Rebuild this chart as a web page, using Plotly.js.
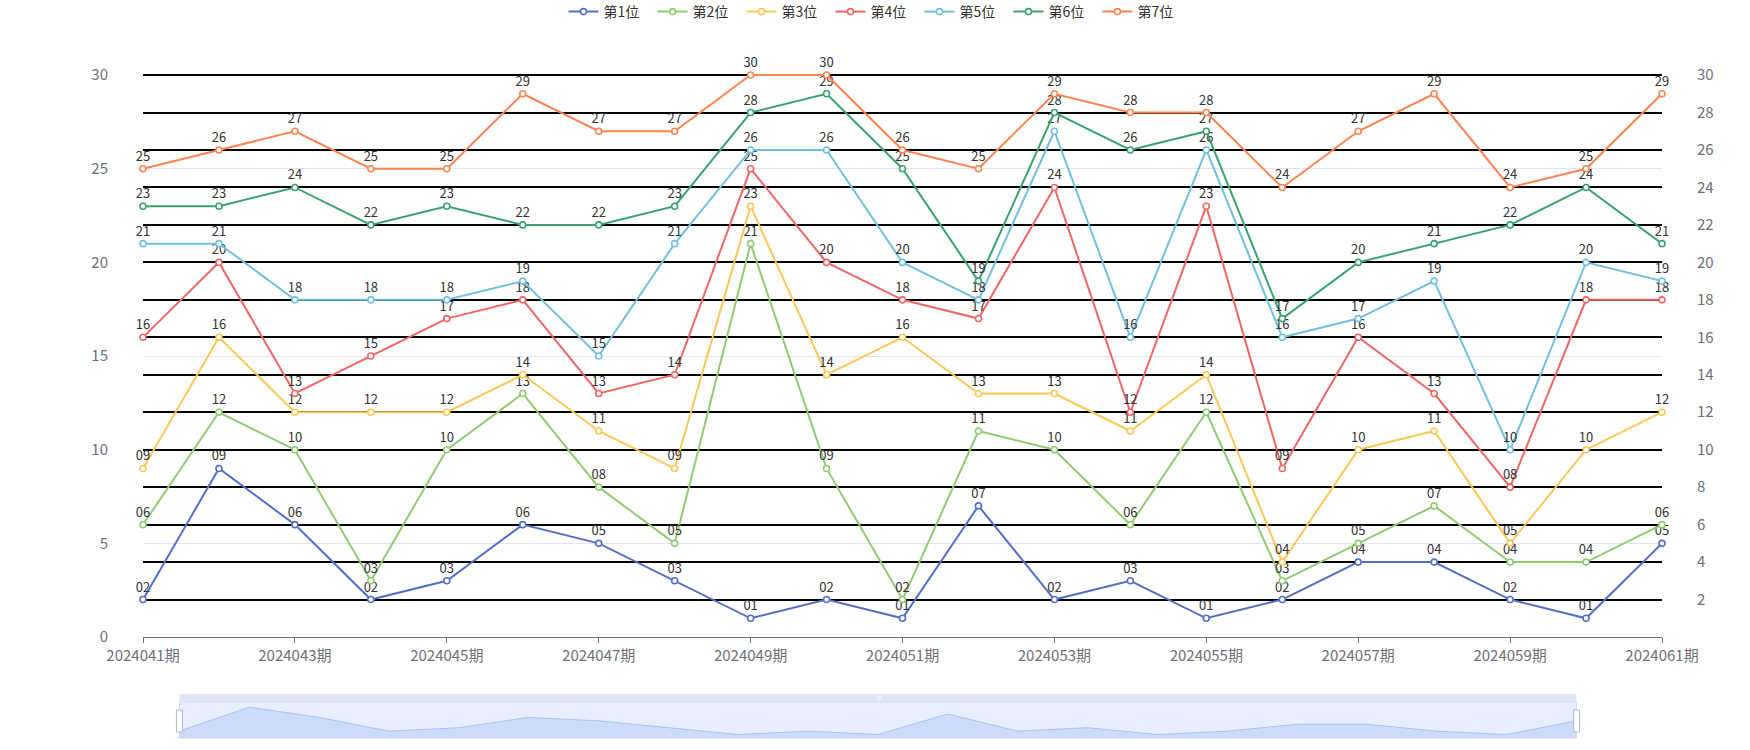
<!DOCTYPE html>
<html>
<head>
<meta charset="utf-8">
<script src="https://cdn.plot.ly/plotly-3.0.1.min.js"></script>
<style>html,body{margin:0;padding:0;background:#fff;}#chart{width:1750px;height:750px;}</style>
</head>
<body>
<div id="chart"></div>
<script>
const categories = ['2024041期','2024042期','2024043期','2024044期','2024045期','2024046期','2024047期','2024048期','2024049期','2024050期','2024051期','2024052期','2024053期','2024054期','2024055期','2024056期','2024057期','2024058期','2024059期','2024060期','2024061期'];
const seriesNames = ['第1位','第2位','第3位','第4位','第5位','第6位','第7位'];
const pos1 = [2, 9, 6, 2, 3, 6, 5, 3, 1, 2, 1, 7, 2, 3, 1, 2, 4, 4, 2, 1, 5];
const pos2 = [6, 12, 10, 3, 10, 13, 8, 5, 21, 9, 2, 11, 10, 6, 12, 3, 5, 7, 4, 4, 6];
const pos3 = [9, 16, 12, 12, 12, 14, 11, 9, 23, 14, 16, 13, 13, 11, 14, 4, 10, 11, 5, 10, 12];
const pos4 = [16, 20, 13, 15, 17, 18, 13, 14, 25, 20, 18, 17, 24, 12, 23, 9, 16, 13, 8, 18, 18];
const pos5 = [21, 21, 18, 18, 18, 19, 15, 21, 26, 26, 20, 18, 27, 16, 26, 16, 17, 19, 10, 20, 19];
const pos6 = [23, 23, 24, 22, 23, 22, 22, 23, 28, 29, 25, 19, 28, 26, 27, 17, 20, 21, 22, 24, 21];
const pos7 = [25, 26, 27, 25, 25, 29, 27, 27, 30, 30, 26, 25, 29, 28, 28, 24, 27, 29, 24, 25, 29];
const leftTicks = [0, 5, 10, 15, 20, 25, 30];
const rightTicks = [2, 4, 6, 8, 10, 12, 14, 16, 18, 20, 22, 24, 26, 28, 30];

const allSeries = [pos1, pos2, pos3, pos4, pos5, pos6, pos7];
const colors = ['#5470c6','#91cc75','#fac858','#ee6666','#73c0de','#3ba272','#fc8452'];
const FONT = '"Noto Sans CJK SC", "Microsoft YaHei", sans-serif';
const Y_RANGE = [0, 30.27];

const traces = allSeries.map((vals, i) => ({
  type: 'scatter',
  mode: 'lines+markers+text',
  name: seriesNames[i],
  x: categories,
  y: vals,
  text: vals.map(v => String(v).padStart(2, '0')),
  textposition: 'top center',
  textfont: {family: FONT, size: 13, color: '#333'},
  cliponaxis: false,
  line: {color: colors[i], width: 2},
  marker: {symbol: 'circle', size: 6, color: '#fff', line: {color: colors[i], width: 1.6}},
  xaxis: 'x',
  // last series is bound to the right axis (same scale) so that axis is drawn
  yaxis: i === allSeries.length - 1 ? 'y2' : 'y'
}));

// data zoom slider preview (series 第1位)
traces.push({
  type: 'scatter', mode: 'lines', x: categories, y: pos1,
  fill: 'tozeroy', fillcolor: 'rgba(143,176,247,0.28)',
  line: {color: '#a9c1f5', width: 1},
  xaxis: 'x2', yaxis: 'y3', showlegend: false, hoverinfo: 'skip'
});

const tickCats = categories.filter((c, i) => i % 2 === 0);

const layout = {
  width: 1750, height: 750,
  margin: {l: 142.5, r: 87.5, t: 70, b: 10},
  paper_bgcolor: '#fff', plot_bgcolor: 'rgba(0,0,0,0)',
  font: {family: FONT, color: '#6E7079'},
  showlegend: true,
  legend: {
    orientation: 'h', xref: 'container', yref: 'container',
    x: 0.5, xanchor: 'center', y: 0.984, yanchor: 'middle',
    font: {family: FONT, size: 14, color: '#333'},
    entrywidth: 44, entrywidthmode: 'pixels',
    itemwidth: 30, tracegroupgap: 0
  },
  xaxis: {
    type: 'category', domain: [0, 1], anchor: 'y',
    range: [0, categories.length - 1],
    tickmode: 'array', tickvals: tickCats, ticktext: tickCats,
    ticks: 'outside', ticklen: 5, tickcolor: '#6E7079',
    showline: true, linecolor: '#6E7079', linewidth: 1,
    showgrid: false, zeroline: false,
    tickfont: {family: FONT, size: 15, color: '#6E7079'}
  },
  yaxis: {
    domain: [0.1537, 1], range: Y_RANGE,
    tickmode: 'array', tickvals: leftTicks,
    showgrid: true, gridcolor: '#E0E6F1', gridwidth: 1,
    zeroline: false, showline: false, ticks: '',
    ticklabelstandoff: 34,
    tickfont: {family: FONT, size: 15, color: '#6E7079'}
  },
  yaxis2: {
    overlaying: 'y', side: 'right', anchor: 'x', range: Y_RANGE,
    tickmode: 'array', tickvals: rightTicks,
    showgrid: true, gridcolor: '#000', gridwidth: 2,
    zeroline: false, showline: false, ticks: '',
    ticklabelstandoff: 34,
    tickfont: {family: FONT, size: 15, color: '#6E7079'}
  },
  xaxis2: {
    type: 'category', domain: [0.0240, 0.9437], anchor: 'y3',
    range: [0, categories.length - 1], visible: false, fixedrange: true
  },
  yaxis3: {
    domain: [0.0030, 0.0567], anchor: 'x2', range: [0, 10.5],
    visible: false, fixedrange: true
  },
  shapes: [
    {type: 'rect', xref: 'paper', yref: 'paper', x0: 0.0240, x1: 0.9437, y0: 0.0030, y1: 0.0567,
     fillcolor: '#e7eefd', line: {color: '#d2dbee', width: 1}, layer: 'below'},
    {type: 'rect', xref: 'paper', yref: 'paper', x0: 0.0240, x1: 0.9437, y0: 0.0567, y1: 0.0687,
     fillcolor: '#dfe5f3', line: {width: 0}, layer: 'below'},
    {type: 'line', xref: 'paper', yref: 'paper', x0: 0.4838, x1: 0.4838, y0: 0.0597, y1: 0.0660,
     line: {color: '#fff', width: 1}},
    {type: 'line', xref: 'paper', yref: 'paper', x0: 0.4852, x1: 0.4852, y0: 0.0597, y1: 0.0660,
     line: {color: '#fff', width: 1}},
    {type: 'rect', xref: 'paper', yref: 'paper', x0: 0.0220, x1: 0.0260, y0: 0.0119, y1: 0.0448,
     fillcolor: '#fff', line: {color: '#acb8d1', width: 1}},
    {type: 'rect', xref: 'paper', yref: 'paper', x0: 0.9418, x1: 0.9457, y0: 0.0119, y1: 0.0448,
     fillcolor: '#fff', line: {color: '#acb8d1', width: 1}}
  ]
};

Plotly.newPlot('chart', traces, layout, {displayModeBar: false, responsive: false});
</script>
</body>
</html>
